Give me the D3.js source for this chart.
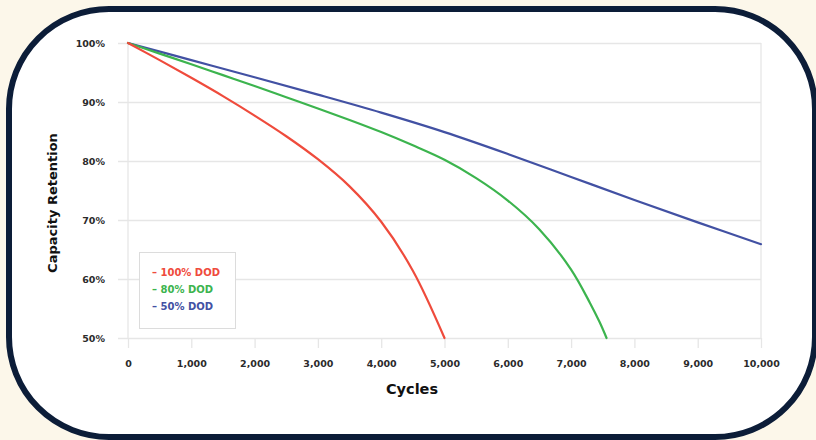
<!DOCTYPE html>
<html>
<head>
<meta charset="utf-8">
<script src="https://cdn.jsdelivr.net/npm/d3@7"></script>
<style>
  html, body { margin: 0; padding: 0; background: #fcf7ea; }
  svg { display: block; }
  text { font-family: "DejaVu Sans", sans-serif; font-weight: bold; }
</style>
</head>
<body>
<div id="chart"></div>
<script>
(function() {
    "use strict";

    // Tick values for both axes.
    var xTicks = [0, 1000, 2000, 3000, 4000, 5000, 6000, 7000, 8000, 9000, 10000];
    var yTicks = [50, 60, 70, 80, 90, 100];

    // Capacity retention (%), by cycle count.
    var seriesNames = ["100% DOD", "80% DOD", "50% DOD"];
    var seriesColors = ["#ef4b3c", "#3cb44e", "#4251a3"];

    var dod100Cycles = [0, 500, 1000, 1500, 2000, 2500, 3000, 3500, 4000, 4500, 5000];
    var dod100Values = [100, 97.1, 94.1, 91.0, 87.7, 84.2, 80.3, 75.7, 69.7, 61.4, 50];

    var dod80Cycles = [0, 500, 1000, 1500, 2000, 2500, 3000, 3500, 4000, 4500, 5000,
                       5500, 6000, 6500, 7000, 7300, 7450, 7560];
    var dod80Values = [100, 98.2, 96.4, 94.55, 92.7, 90.8, 88.9, 86.95, 84.9, 82.65, 80.2,
                       77.1, 73.3, 68.4, 61.6, 55.9, 52.7, 50];

    var dod50Cycles = [0, 1000, 2000, 3000, 4000, 5000, 6000, 7000, 8000, 9000, 10000];
    var dod50Values = [100, 97.1, 94.2, 91.25, 88.2, 84.9, 81.2, 77.3, 73.4, 69.6, 65.9];

    var w = 816;
    var h = 440;

    var svg = d3.select("#chart").append("svg")
        .attr("width", w)
        .attr("height", h);

    // Rounded dark frame with white card inside.
    svg.append("rect")
        .attr("x", 9)
        .attr("y", 9)
        .attr("width", 806)
        .attr("height", 428)
        .attr("rx", 100)
        .attr("ry", 100)
        .attr("fill", "#ffffff")
        .attr("stroke", "#0c1d38")
        .attr("stroke-width", 6);

    var xScale = d3.scaleLinear()
        .domain([0, 10000])
        .range([128, 761]);
    var yScale = d3.scaleLinear()
        .domain([50, 100])
        .range([338, 43]);

    var gridColor = "#e6e6e6";

    // Horizontal gridlines + y labels.
    var yAxis = svg.append("g")
        .attr("transform", "translate(118,0)")
        .call(d3.axisLeft(yScale)
            .tickValues(yTicks)
            .tickSize(-(761 - 118))
            .tickPadding(13)
            .tickFormat(function(d) { return d + "%"; }));
    yAxis.select(".domain").remove();
    yAxis.selectAll("line")
        .attr("stroke", gridColor)
        .attr("stroke-width", 1.3);
    yAxis.selectAll("text")
        .attr("fill", "#2b2b2b")
        .style("font-size", "9.5px");

    // Left and right plot borders.
    svg.selectAll(".edge")
        .data([0, 10000])
        .enter()
        .append("line")
        .attr("class", "edge")
        .attr("x1", function(d) { return xScale(d); })
        .attr("x2", function(d) { return xScale(d); })
        .attr("y1", yScale(100))
        .attr("y2", yScale(50))
        .attr("stroke", gridColor)
        .attr("stroke-width", 1.3);

    // X ticks hanging under the bottom gridline.
    var xAxis = svg.append("g")
        .attr("transform", "translate(0," + yScale(50) + ")")
        .call(d3.axisBottom(xScale)
            .tickValues(xTicks)
            .tickSize(10)
            .tickPadding(12)
            .tickFormat(d3.format(",")));
    xAxis.select(".domain").remove();
    xAxis.selectAll("line")
        .attr("stroke", gridColor)
        .attr("stroke-width", 1.3);
    xAxis.selectAll("text")
        .attr("fill", "#2b2b2b")
        .style("font-size", "9.5px");

    // Curves.
    var series = [
        { cycles: dod100Cycles, values: dod100Values },
        { cycles: dod80Cycles, values: dod80Values },
        { cycles: dod50Cycles, values: dod50Values }
    ];

    var line = d3.line()
        .x(function(d) { return xScale(d[0]); })
        .y(function(d) { return yScale(d[1]); })
        .curve(d3.curveCatmullRom.alpha(0.5));

    // draw 50% first so red sits on top near the origin
    series.slice().reverse().forEach(function(s, j) {
        var i = series.length - 1 - j;
        var pts = s.cycles.map(function(c, k) { return [c, s.values[k]]; });
        svg.append("path")
            .datum(pts)
            .attr("d", line)
            .attr("fill", "none")
            .attr("stroke", seriesColors[i])
            .attr("stroke-width", 2.2)
            .attr("stroke-linecap", "round");
    });

    // Legend box.
    svg.append("rect")
        .attr("x", 139.5)
        .attr("y", 252.5)
        .attr("width", 96)
        .attr("height", 76)
        .attr("fill", "#ffffff")
        .attr("stroke", "#dcdcdc")
        .attr("stroke-width", 1);

    svg.selectAll(".legend")
        .data(seriesNames)
        .enter()
        .append("text")
        .attr("class", "legend")
        .attr("x", 152)
        .attr("y", function(d, i) { return 275.5 + i * 17; })
        .attr("fill", function(d, i) { return seriesColors[i]; })
        .style("font-size", "10px")
        .text(function(d) { return "\u2013 " + d; });

    // Axis titles.
    svg.append("text")
        .attr("x", 412)
        .attr("y", 394)
        .attr("text-anchor", "middle")
        .attr("fill", "#111111")
        .style("font-size", "14.5px")
        .text("Cycles");

    svg.append("text")
        .attr("transform", "translate(57,203) rotate(-90)")
        .attr("text-anchor", "middle")
        .attr("fill", "#111111")
        .style("font-size", "13px")
        .text("Capacity Retention");
})();
</script>
</body>
</html>
